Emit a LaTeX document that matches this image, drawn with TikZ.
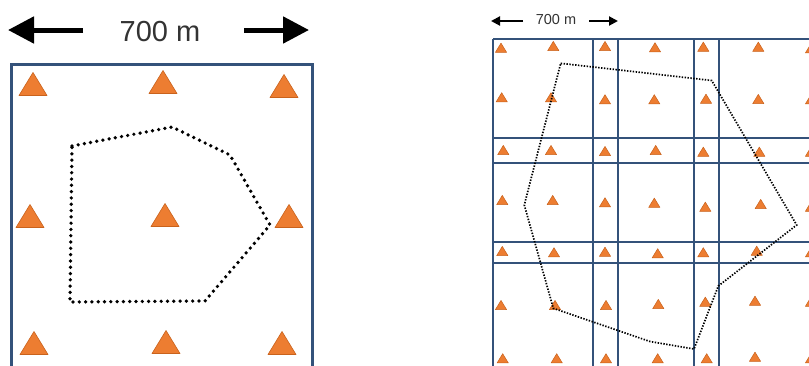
\documentclass[tikz,border=0pt]{standalone}
\usepackage{fontspec}
\setmainfont{Liberation Sans}
\usetikzlibrary{arrows.meta}
\definecolor{gridblue}{HTML}{34527A}
\definecolor{sensorfill}{HTML}{ED7D31}
\definecolor{sensoredge}{HTML}{C9621C}
\definecolor{labelgray}{HTML}{333333}
\tikzset{
  bigbox/.style={draw=gridblue, line width=3pt},
  gridline/.style={draw=gridblue, line width=2pt},
  bigdots/.style={line width=3.7pt, line cap=round, dash pattern=on 0pt off 6.3pt},
  smalldots/.style={line width=1.7pt, dash pattern=on 1.4pt off 1.5pt},
  bigarrow/.style={line width=5pt, -{Triangle[length=26pt,width=26pt]}},
  smallarrow/.style={line width=2pt, -{Triangle[length=9pt,width=9pt]}},
  biglabel/.style={font=\fontsize{29}{30}\selectfont, text=labelgray, inner sep=0pt},
  smalllabel/.style={font=\fontsize{14.5}{15}\selectfont, text=labelgray, inner sep=0pt},
  sensorbig/.pic={\path[fill=sensorfill, draw=sensoredge, line width=0.6pt, line join=round]
      (-14,11.5) -- (14,11.5) -- (0,-11.5) -- cycle;},
  sensorsmall/.pic={\path[fill=sensorfill, draw=sensoredge, line width=0.5pt, line join=round]
      (-5.6,4.6) -- (5.6,4.6) -- (0,-4.6) -- cycle;}
}
\begin{document}
\begin{tikzpicture}[x=1pt,y=-1pt]
\useasboundingbox (0,0) rectangle (809,365);
\fill[white] (0,0) rectangle (809,365);
\clip (0,0) rectangle (809,365);

% ---------- left panel ----------
\node[biglabel] (lblA) at (160,32) {700 m};
\coordinate (aLtip) at (8,30);
\coordinate (aLtail) at (83,30);
\coordinate (aRtail) at (244,30);
\coordinate (aRtip) at (309,30);
\draw[bigarrow] (aLtail) -- (aLtip);
\draw[bigarrow] (aRtail) -- (aRtip);

\draw[bigbox] (11.5,64) rectangle (312,380);

\foreach \px/\py in {33/84, 163/82, 284/86, 30/216, 165/215, 289/216, 34/343, 166/342, 282/343}
  \pic at (\px,\py) {sensorbig};

\coordinate (p1) at (72,146);
\coordinate (p2) at (172,127);
\coordinate (p3) at (230,155);
\coordinate (p4) at (270,225);
\coordinate (p5) at (205,301);
\coordinate (p6) at (70,302);
\draw[bigdots] (p1) -- (p2) -- (p3) -- (p4) -- (p5) -- (p6) -- cycle;

% ---------- right panel ----------
\node[smalllabel] (lblB) at (556,20) {700 m};
\coordinate (bLtip) at (491,21);
\coordinate (bLtail) at (523,21);
\coordinate (bRtail) at (589,21);
\coordinate (bRtip) at (618,21);
\draw[smallarrow] (bLtail) -- (bLtip);
\draw[smallarrow] (bRtail) -- (bRtip);

\foreach \gx in {493, 593, 618, 694, 719}
  \draw[gridline] (\gx,39) -- (\gx,370);
\foreach \gy in {39, 138, 163, 242, 263}
  \draw[gridline] (493,\gy) -- (815,\gy);

\foreach \px/\py in {
  501/47.7, 553.3/46, 605/46, 655/47.3, 703.3/46.7, 758.3/46.7, 811/48.3,
  501.7/97.3, 551/97.3, 605/99.3, 654.3/99.3, 706/98.7, 758.3/99, 811/99.3,
  503.3/150, 551/150, 605/151, 655.7/150, 703.3/151.7, 759.3/151.7, 811/151.7,
  502.3/200, 552.7/200, 605/202.3, 654.3/202.7, 705.3/206.7, 760.7/204, 811/206.7,
  502.3/251, 554/252.3, 605/251.7, 657.7/253.3, 703.3/252.3, 756.7/250.7, 811/252.3,
  501/305, 555/305, 606/305, 658.3/304, 705.3/301.7, 755/300.7, 811/301.7,
  502.7/358.3, 556.7/358.3, 606/358.3, 657.7/358.3, 706.7/358.3, 755/356.7, 811/358.3}
  \pic at (\px,\py) {sensorsmall};

\coordinate (q1) at (560.7,63.3);
\coordinate (q2) at (711.7,80.5);
\coordinate (q3) at (796.7,225);
\coordinate (q4) at (718.3,286);
\coordinate (q5) at (694,349);
\coordinate (q6) at (650,341.5);
\coordinate (q7) at (553.3,308.3);
\coordinate (q8) at (524.3,205);
\draw[smalldots] (q1) -- (q2) -- (q3) -- (q4) -- (q5) -- (q6) -- (q7) -- (q8) -- cycle;
\end{tikzpicture}
\end{document}
